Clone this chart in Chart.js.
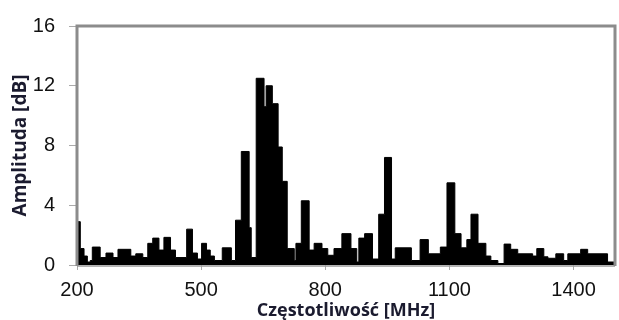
<!DOCTYPE html>
<html>
<head>
<meta charset="utf-8">
<script src="https://cdn.jsdelivr.net/npm/chart.js@4"></script>
<style>
    html, body { margin: 0; padding: 0; background: #fff; }
</style>
</head>
<body>
<canvas id="chart" width="619" height="320"></canvas>
<script>
// spectrum: each value holds until the next frequency
const freqs = [200, 208, 217, 225, 232, 237, 256, 270, 287, 299, 330, 342, 359, 371, 383,
    398, 410, 426, 438, 465, 479, 491, 501, 513, 522, 532, 551, 573, 583, 597,
    616, 621, 633, 652, 657, 672, 686, 696, 708, 725, 729, 742, 761, 773, 792,
    806, 821, 840, 862, 876, 881, 895, 914, 929, 943, 960, 969, 1008, 1029, 1049,
    1078, 1094, 1113, 1128, 1142, 1152, 1169, 1188, 1200, 1217, 1232, 1248, 1265, 1301, 1311,
    1328, 1338, 1357, 1376, 1386, 1417, 1434, 1482, 1500];
const amps = [2.9, 1.1, 0.6, 0.2, 0.3, 1.2, 0.5, 0.8, 0.5, 1.05, 0.6, 0.75, 0.5, 1.45, 1.8,
    1.0, 1.85, 1.0, 0.5, 2.4, 0.8, 0.4, 1.45, 1.0, 0.6, 0.3, 1.15, 0.3, 3.0, 7.6,
    2.5, 0.5, 12.5, 10.6, 12.0, 10.8, 7.9, 5.6, 1.1, 0.3, 1.45, 4.3, 1.0, 1.45, 1.1,
    0.65, 1.1, 2.1, 1.1, 0.2, 1.8, 2.1, 0.4, 3.4, 7.2, 0.4, 1.15, 0.3, 1.7, 0.75,
    1.2, 5.5, 2.1, 1.15, 1.7, 3.4, 1.45, 0.6, 0.3, 0.1, 1.4, 1.05, 0.75, 0.6, 1.1,
    0.55, 0.45, 0.75, 0.3, 0.75, 1.05, 0.75, 0.2, 0.2];
const xTicks = [200, 500, 800, 1100, 1400];
const yTicks = [0, 4, 8, 12, 16];

const points = freqs.map((f, i) => ({ x: f, y: amps[i] }));

// grey box round the plot area
const framePlugin = {
    id: "frame",
    afterDatasetsDraw(chart) {
        const { ctx, chartArea: a } = chart;
        ctx.save();
        ctx.strokeStyle = "#9a9a9a";
        ctx.lineWidth = 1.5;
        ctx.beginPath();
        ctx.moveTo(a.left, a.bottom + 1);
        ctx.lineTo(a.right, a.bottom + 1);
        ctx.stroke();
        ctx.strokeStyle = "#8c8c8c";
        ctx.lineWidth = 3;
        ctx.beginPath();
        ctx.moveTo(a.left, a.bottom + 1);
        ctx.lineTo(a.left, a.top);
        ctx.lineTo(a.right, a.top);
        ctx.lineTo(a.right, a.bottom + 1);
        ctx.stroke();
        ctx.restore();
    },
};

const tickFont = { family: "'Liberation Sans', Arial, sans-serif", size: 20 };
const titleFamily = "'Open Sans', sans-serif";

new Chart(document.getElementById("chart"), {
    type: "line",
    data: {
        datasets: [
            {
                data: points,
                stepped: true,
                borderColor: "#000",
                borderWidth: 1,
                backgroundColor: "#000",
                fill: "origin",
                pointRadius: 0,
            },
        ],
    },
    options: {
        responsive: false,
        animation: false,
        layout: { padding: { top: 23, right: 4, left: 0, bottom: 0 } },
        plugins: { legend: { display: false }, tooltip: { enabled: false } },
        scales: {
            x: {
                type: "linear",
                min: 200,
                max: 1500,
                afterBuildTicks: (s) => { s.ticks = xTicks.map((v) => ({ value: v })); },
                afterFit: (s) => { s.height = 55; },
                border: { display: false },
                grid: { drawOnChartArea: false, tickLength: 5, color: "#aaa" },
                ticks: {
                    font: tickFont,
                    color: "#111",
                    padding: 8,
                    maxRotation: 0,
                    callback: (v) => String(v),
                },
                title: {
                    display: true,
                    text: "Częstotliwość [MHz]",
                    font: { family: titleFamily, size: 18, weight: "bold" },
                    color: "#1b1b2f",
                    padding: { top: 0, bottom: -2 },
                },
            },
            y: {
                min: 0,
                max: 16,
                afterBuildTicks: (s) => { s.ticks = yTicks.map((v) => ({ value: v })); },
                afterFit: (s) => { s.width = 77; },
                border: { display: false },
                grid: { drawOnChartArea: false, tickLength: 8, color: "#aaa" },
                ticks: { font: tickFont, color: "#111", padding: 14 },
                title: {
                    display: true,
                    text: "Amplituda [dB]",
                    font: { family: titleFamily, size: 19, weight: "bold" },
                    color: "#1b1b2f",
                    padding: { top: 9, bottom: 0 },
                },
            },
        },
    },
    plugins: [framePlugin],
});
</script>
</body>
</html>
